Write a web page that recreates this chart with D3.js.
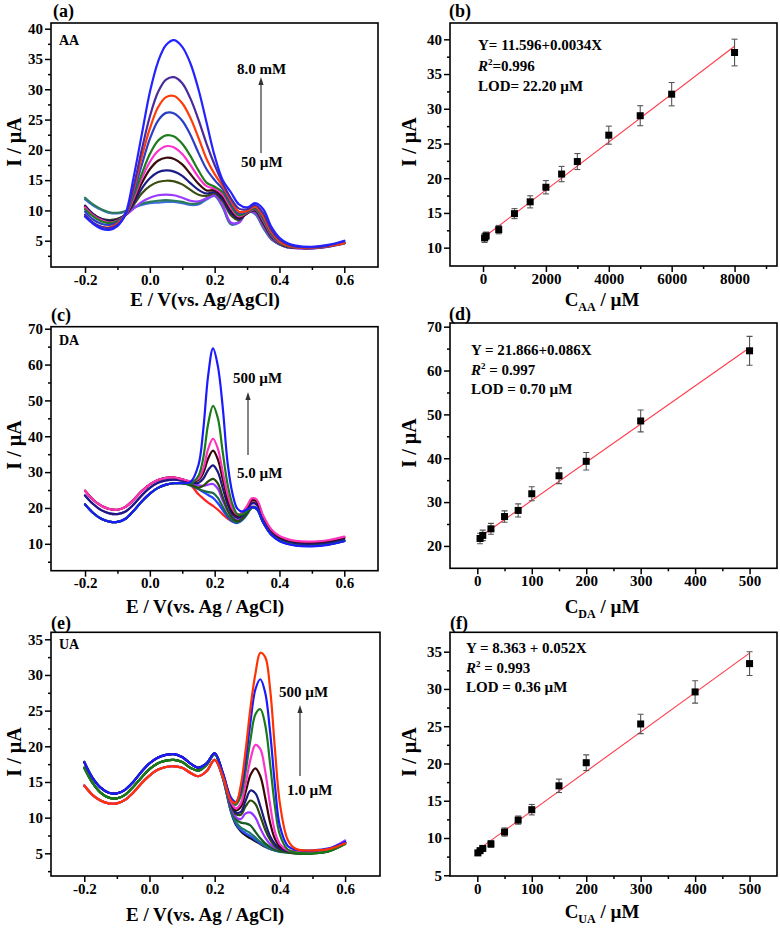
<!DOCTYPE html>
<html><head><meta charset="utf-8">
<script src="https://cdn.jsdelivr.net/npm/d3@7"></script>
<style>
body{margin:0;background:#fff}
svg{display:block}
</style>
</head><body>
<svg id="chart" width="780" height="928"></svg>
<script>
// ================= DATA =================
// ---- Panel (a): AA DPV curves (potential grid, V) ----
const E_AA = [-0.2,-0.175,-0.15,-0.125,-0.1,-0.075,-0.05,-0.025,0,0.025,0.05,0.075,0.1,0.125,0.15,0.175,0.2,0.225,0.25,0.275,0.3,0.325,0.35,0.375,0.4,0.425,0.45,0.5,0.55,0.6];
const AA_curveLabels = ["50 µM","100 µM","500 µM","1.0 mM","1.5 mM","2.0 mM","2.5 mM","3.0 mM","4.0 mM","5.0 mM","6.0 mM","8.0 mM"];
const AA_colors = ["#3f6fe0","#2a7a5a","#9a3cff","#3b4d12","#1c1c86","#3a0c0c","#ff30d0","#1d7d1d","#2b3fc4","#ff3d0a","#4b2a9e","#2323ff"];
const AA_I = [
 [11.8,10.8,10.1,9.6,9.5,9.8,10.4,10.9,11.2,11.3,11.4,11.4,11.2,10.9,11.0,11.8,12.4,10.5,7.7,8.0,9.8,9.4,7.1,5.2,4.4,3.9,3.8,3.75,4.0,4.7],
 [12.1,11.0,10.2,9.7,9.6,9.9,10.5,11.1,11.4,11.6,11.7,11.6,11.4,11.1,11.2,12.0,12.5,10.6,7.8,8.1,9.8,9.5,7.2,5.3,4.4,3.9,3.8,3.75,4.0,4.6],
 [10.5,9.3,8.6,8.3,8.5,9.2,10.3,11.4,12.1,12.5,12.6,12.5,12.1,11.6,11.5,12.0,12.5,10.8,8.0,8.0,9.7,9.6,7.4,5.4,4.4,3.9,3.75,3.7,4.0,4.5],
 [10.7,9.4,8.6,8.4,8.6,9.3,10.9,12.8,14.0,14.7,14.9,14.8,14.3,13.4,12.6,12.4,12.8,11.5,9.2,8.4,9.6,9.9,7.8,5.6,4.5,4.0,3.85,3.8,4.1,4.6],
 [10.8,9.4,8.6,8.3,8.5,9.3,11.2,13.6,15.3,16.3,16.6,16.4,15.7,14.5,13.4,12.8,13.0,11.8,9.6,8.6,9.5,10.0,8.0,5.7,4.5,4.0,3.85,3.8,4.1,4.6],
 [10.6,9.3,8.5,8.1,8.4,9.3,11.6,14.5,16.8,18.2,18.7,18.5,17.6,16.0,14.4,13.3,13.3,12.2,10.0,8.8,9.5,10.1,8.1,5.8,4.6,4.0,3.85,3.8,4.1,4.6],
 [10.5,9.2,8.4,8.0,8.3,9.3,12.0,15.3,18.0,19.8,20.6,20.4,19.3,17.5,15.5,14.0,13.6,12.6,10.4,9.0,9.6,10.2,8.3,5.9,4.6,4.1,3.9,3.8,4.1,4.6],
 [10.2,9.0,8.2,7.9,8.2,9.4,12.4,16.0,19.3,21.5,22.4,22.2,21.0,19.0,16.6,14.6,13.9,13.0,10.8,9.2,9.7,10.3,8.5,6.0,4.7,4.1,3.9,3.8,4.1,4.6],
 [9.8,8.5,7.8,7.6,8.0,9.4,13.0,17.5,21.8,24.8,26.1,26.0,24.8,22.5,19.5,16.8,15.0,13.5,11.2,9.5,9.8,10.5,8.8,6.2,4.8,4.2,3.9,3.8,4.1,4.7],
 [9.0,7.9,7.3,7.2,7.8,9.4,13.5,18.8,23.5,27.0,28.7,28.9,27.7,25.3,22.0,18.5,16.0,14.0,11.6,9.8,9.9,10.6,9.0,6.4,4.9,4.2,3.9,3.8,4.1,4.6],
 [9.3,8.0,7.3,7.1,7.6,9.3,14.0,20.0,25.5,29.5,31.6,32.0,31.0,28.5,25.0,21.0,17.5,14.5,12.0,10.3,10.2,10.9,9.5,6.8,5.2,4.4,4.0,3.9,4.2,4.9],
 [9.0,7.8,7.0,6.8,7.4,9.5,15.5,22.5,29.5,34.5,37.3,38.1,37.0,34.3,30.0,24.5,19.0,15.0,13.0,11.0,10.5,11.2,10.2,7.3,5.5,4.6,4.2,4.0,4.3,5.0]
];

// ---- Panel (b): AA calibration ----
const AA_conc = [50,100,500,1000,1500,2000,2500,3000,4000,5000,6000,8000];
const AA_peak = [11.4,11.7,12.6,14.9,16.6,18.7,20.6,22.4,26.2,29.0,32.1,38.1];
const AA_err  = [0.65,0.55,0.6,0.72,0.87,0.96,1.1,1.15,1.3,1.44,1.68,1.92];
const AA_fit  = [[30,11.5],[8000,39.0]];
const AA_text = ["Y= 11.596+0.0034X","=0.996","LOD= 22.20 µM"];

// ---- Panel (c): DA DPV curves ----
const E_DA_left  = [-0.2,-0.175,-0.15,-0.125,-0.1,-0.075,-0.05,-0.025,0,0.025,0.05,0.075,0.1];
const E_DA_right = [0.125,0.15,0.165,0.18,0.195,0.21,0.225,0.24,0.255,0.27,0.285,0.3,0.315,0.33,0.35,0.375,0.4,0.45,0.5,0.55,0.6];
const DA_baseA = [24.8,22.3,20.6,19.7,19.5,20.3,22.3,24.7,26.6,27.8,28.4,28.5,28.0];
const DA_baseB = [23.5,21.1,19.4,18.5,18.3,19.0,21.0,23.5,25.6,27.0,27.7,27.9,27.6];
const DA_baseC = [21.0,18.6,17.0,16.2,16.1,17.0,19.2,21.8,24.0,25.6,26.5,26.9,26.9];
const DA_curveLabels = ["5.0 µM","10 µM","25 µM","50 µM","75 µM","100 µM","150 µM","200 µM","300 µM","500 µM"];
const DA_colors = ["#ff2020","#2244ff","#1a6a4a","#9933ff","#2a4a10","#1a1a80","#3a0505","#ff33bb","#1a7a1a","#1a1aff"];
const DA_group  = ["A","C","C","B","C","B","A","A","C","C"];
const DA_right = [
 [26.5,23.8,22.6,21.5,20.6,19.5,18.2,17.0,16.2,16.0,17.0,19.0,22.0,21.8,17.0,13.5,11.8,10.6,10.4,10.8,11.8],
 [26.4,25.3,24.4,23.6,22.8,21.3,19.4,17.5,16.2,15.8,16.6,18.2,20.0,19.6,15.8,12.5,10.8,9.6,9.4,9.8,10.8],
 [26.3,25.3,24.8,24.4,24.2,22.8,20.3,18.0,16.5,16.0,16.8,18.4,20.1,19.7,15.9,12.5,10.9,9.7,9.5,9.9,10.9],
 [26.8,26.3,26.2,26.5,26.7,25.3,22.0,19.2,17.3,16.6,17.4,19.2,21.2,20.8,16.6,13.0,11.3,10.1,9.9,10.3,11.3],
 [26.5,25.7,26.2,27.4,28.1,26.8,23.0,19.5,17.2,16.3,17.0,18.6,20.3,19.9,16.0,12.6,11.0,9.7,9.5,9.9,10.9],
 [27.1,27.0,28.2,30.6,31.9,30.0,25.5,21.0,18.2,17.2,17.8,19.5,21.4,21.0,16.8,13.1,11.4,10.1,9.9,10.3,11.3],
 [27.4,27.8,29.8,33.8,36.0,33.5,28.0,22.5,19.0,17.8,18.3,20.2,22.2,21.8,17.4,13.7,11.9,10.6,10.4,10.8,11.8],
 [27.5,28.2,31.0,36.5,39.3,36.5,30.0,23.8,19.8,18.2,18.8,20.6,22.7,22.3,17.8,14.0,12.2,10.8,10.6,11.0,12.0],
 [26.8,29.0,34.0,43.5,48.5,45.0,35.5,26.5,21.0,18.3,18.2,19.2,20.2,19.8,16.0,12.6,10.9,9.6,9.4,9.8,10.8],
 [27.2,32.0,42.0,57.0,64.5,59.5,48.0,32.5,24.0,19.8,19.0,19.6,20.2,19.8,16.0,12.5,10.8,9.5,9.3,9.7,10.7]
];

// ---- Panel (d): DA calibration ----
const DA_conc = [5,10,25,50,75,100,150,200,300,500];
const DA_peak = [21.7,22.4,23.9,26.7,28.1,31.9,36.0,39.3,48.5,64.5];
const DA_err  = [1.2,1.2,1.25,1.3,1.5,1.6,1.8,2.0,2.5,3.3];
const DA_fit  = [[5,22.1],[500,65.2]];
const DA_text = ["Y = 21.866+0.086X"," = 0.997","LOD = 0.70 µM"];

// ---- Panel (e): UA DPV curves ----
const E_UA_left  = [-0.2,-0.175,-0.15,-0.125,-0.1,-0.075,-0.05,-0.025,0,0.025,0.05,0.075,0.1,0.125,0.15,0.175,0.2];
const E_UA_right = [0.225,0.25,0.265,0.28,0.295,0.31,0.325,0.34,0.355,0.37,0.385,0.4,0.425,0.45,0.5,0.55,0.6];
const UA_baseT  = [17.8,15.6,14.2,13.5,13.4,13.9,15.0,16.4,17.6,18.4,18.8,18.9,18.5,17.6,17.0,17.6,19.0];
const UA_baseM  = [17.0,14.9,13.5,12.8,12.7,13.2,14.3,15.6,16.8,17.6,18.0,18.1,17.8,17.0,16.6,17.4,18.9];
const UA_baseBt = [14.5,13.2,12.4,12.0,12.0,12.5,13.5,14.8,15.9,16.7,17.1,17.2,17.0,16.3,15.8,16.5,18.1];
const UA_curveLabels = ["1.0 µM","5.0 µM","10 µM","25 µM","50 µM","75 µM","100 µM","150 µM","200 µM","300 µM","400 µM","500 µM"];
const UA_colors = ["#101010","#3050ff","#1a7a6a","#1a5a2a","#9933ff","#2a4a0a","#1a1a80","#3a0505","#ff33cc","#1a7a1a","#1a1aff","#ff3300"];
const UA_group  = ["Bt","T","M","M","Bt","M","T","T","Bt","M","T","Bt"];
const UA_right = [
 [15.5,10.8,9.0,8.1,7.5,7.1,6.7,6.3,5.9,5.6,5.4,5.3,5.3,5.3,5.3,5.5,6.5],
 [15.6,10.9,9.2,8.3,7.8,7.4,6.9,6.4,6.0,5.6,5.4,5.3,5.3,5.3,5.3,5.6,6.6],
 [15.6,11.0,9.4,8.6,8.2,7.8,7.2,6.6,6.1,5.7,5.4,5.2,5.1,5.0,5.0,5.3,6.4],
 [15.8,11.3,9.8,9.3,9.2,8.9,8.0,7.1,6.4,5.9,5.5,5.3,5.1,5.0,5.0,5.3,6.4],
 [15.8,11.5,10.1,9.8,10.6,10.7,10.0,8.5,7.2,6.3,5.8,5.5,5.4,5.3,5.3,5.6,6.8],
 [16.0,11.8,10.5,10.4,11.6,12.4,11.9,10.2,8.3,6.9,6.0,5.5,5.2,5.0,5.0,5.3,6.3],
 [16.2,12.0,10.7,10.8,12.4,13.8,13.4,11.6,9.3,7.4,6.3,5.7,5.3,5.2,5.1,5.4,6.5],
 [16.2,12.2,11.0,11.5,13.6,16.0,16.9,15.8,12.8,9.3,7.0,6.0,5.4,5.2,5.1,5.4,6.5],
 [15.8,12.2,11.3,12.0,14.8,18.2,20.2,19.6,16.5,11.8,8.0,6.3,5.4,5.2,5.1,5.4,6.4],
 [16.2,12.6,11.8,13.0,16.5,21.0,24.5,25.2,23.0,17.5,11.5,7.6,5.5,5.1,5.0,5.3,6.3],
 [16.3,12.8,12.2,13.8,18.0,23.5,28.0,29.4,27.5,22.0,14.5,8.8,6.0,5.5,5.4,5.7,6.6],
 [15.8,12.4,12.1,14.5,19.5,25.5,30.2,33.1,32.5,28.0,19.5,12.0,6.8,5.6,5.4,5.6,6.4]
];

// ---- Panel (f): UA calibration ----
const UA_conc = [1,5,10,25,50,75,100,150,200,300,400,500];
const UA_peak = [8.0,8.3,8.6,9.2,10.8,12.4,13.8,17.0,20.1,25.3,29.6,33.4];
const UA_err  = [0.3,0.3,0.35,0.45,0.55,0.55,0.7,0.9,1.05,1.3,1.5,1.6];
const UA_fit  = [[1,8.4],[500,34.8]];
const UA_text = ["Y = 8.363 + 0.052X"," = 0.993","LOD = 0.36 µM"];

// ---- Tick values ----
const E_ticks = [-0.2,0,0.2,0.4,0.6];
const E_minor = [-0.1,0.1,0.3,0.5];
const AAconc_ticks = [0,2000,4000,6000,8000];
const AAconc_minor = [1000,3000,5000,7000,9000];
const conc_ticks = [0,100,200,300,400,500];
const conc_minor = [50,150,250,350,450];
const yA_ticks = [5,10,15,20,25,30,35,40];
const yA_minor = [2.5,7.5,12.5,17.5,22.5,27.5,32.5,37.5];
const yB_ticks = [10,15,20,25,30,35,40];
const yB_minor = [12.5,17.5,22.5,27.5,32.5,37.5];
const yC_ticks = [10,20,30,40,50,60,70];
const yC_minor = [5,15,25,35,45,55,65];
const yD_ticks = [20,30,40,50,60,70];
const yD_minor = [25,35,45,55,65];
const yE_ticks = [5,10,15,20,25,30,35];
const yE_minor = [2.5,7.5,12.5,17.5,22.5,27.5,32.5];
const yF_ticks = [5,10,15,20,25,30,35];
const yF_minor = [7.5,12.5,17.5,22.5,27.5,32.5];

// ================= DRAWING =================
const FONT = "'Liberation Serif','Times New Roman',serif";
const svg = d3.select("#chart");
const defs = svg.append("defs");

function panel(p) {
  const x = d3.scaleLinear().domain(p.xd).range([p.l, p.r]);
  const y = d3.scaleLinear().domain(p.yd).range([p.b, p.t]);
  const g = svg.append("g");
  defs.append("clipPath").attr("id", "clip" + p.id)
    .append("rect").attr("x", p.l).attr("y", p.t).attr("width", p.r - p.l).attr("height", p.b - p.t);
  g.append("g").attr("transform", `translate(0,${p.b})`)
    .call(d3.axisBottom(x).tickValues(p.xt).tickSize(6).tickPadding(1).tickFormat(p.xf));
  g.append("g").attr("transform", `translate(0,${p.b})`)
    .call(d3.axisBottom(x).tickValues(p.xm).tickSize(3).tickFormat(""));
  g.append("g").attr("transform", `translate(${p.l},0)`)
    .call(d3.axisLeft(y).tickValues(p.yt).tickSize(6).tickPadding(2).tickFormat(d3.format("d")));
  g.append("g").attr("transform", `translate(${p.l},0)`)
    .call(d3.axisLeft(y).tickValues(p.ym).tickSize(3).tickFormat(""));
  g.selectAll(".domain").remove();
  g.selectAll(".tick line").attr("stroke", "#000").attr("stroke-width", 1.5);
  g.selectAll(".tick text").attr("font-size", 15).attr("font-weight", "bold")
    .attr("font-family", FONT).attr("fill", "#000");
  const plot = svg.append("g").attr("clip-path", `url(#clip${p.id})`);
  return {x, y, plot, p};
}
function frame(pn) {
  const p = pn.p;
  svg.append("rect").attr("x", p.l).attr("y", p.t).attr("width", p.r - p.l).attr("height", p.b - p.t)
    .attr("fill", "none").attr("stroke", "#000").attr("stroke-width", 1.6);
}
function curves(pn, E, series, colors) {
  const line = d3.line().x((d, i) => pn.x(E[i])).y(d => pn.y(d)).curve(d3.curveCatmullRom.alpha(0.5));
  pn.plot.selectAll(null).data(series).enter().append("path")
    .attr("d", line).attr("fill", "none")
    .attr("stroke", (d, i) => colors[i]).attr("stroke-width", 2.2)
    .attr("stroke-linejoin", "round").attr("stroke-linecap", "round");
}
function scatter(pn, xs, ys, es, fit) {
  pn.plot.append("path").datum(fit)
    .attr("d", d3.line().x(d => pn.x(d[0])).y(d => pn.y(d[1])))
    .attr("fill", "none").attr("stroke", "#ff3a4a").attr("stroke-width", 1.1);
  const eg = pn.plot.append("g").attr("stroke", "#555").attr("stroke-width", 1.1);
  xs.forEach((xv, i) => {
    const cx = pn.x(xv), y1 = pn.y(ys[i] - es[i]), y2 = pn.y(ys[i] + es[i]);
    eg.append("line").attr("x1", cx).attr("x2", cx).attr("y1", y1).attr("y2", y2);
    eg.append("line").attr("x1", cx - 3).attr("x2", cx + 3).attr("y1", y1).attr("y2", y1);
    eg.append("line").attr("x1", cx - 3).attr("x2", cx + 3).attr("y1", y2).attr("y2", y2);
  });
  pn.plot.selectAll(null).data(xs).enter().append("rect")
    .attr("x", d => pn.x(d) - 3.5).attr("y", (d, i) => pn.y(ys[i]) - 3.5)
    .attr("width", 7).attr("height", 7).attr("fill", "#000");
}
function text(x, y, s, size, anchor) {
  return svg.append("text").attr("x", x).attr("y", y).attr("font-family", FONT)
    .attr("font-weight", "bold").attr("font-size", size).attr("text-anchor", anchor || "start")
    .attr("fill", "#000").text(s);
}
function ytitle(x, y) {
  svg.append("text").attr("transform", `translate(${x},${y}) rotate(-90)`)
    .attr("font-family", FONT).attr("font-weight", "bold").attr("font-size", 20)
    .attr("text-anchor", "middle").attr("fill", "#000").text("I / µA");
}
function ctitle(x, y, sub) {
  const t = svg.append("text").attr("x", x).attr("y", y).attr("font-family", FONT)
    .attr("font-weight", "bold").attr("font-size", 19).attr("text-anchor", "middle").attr("fill", "#000");
  t.append("tspan").text("C");
  t.append("tspan").attr("font-size", 12).attr("dy", 5).text(sub);
  t.append("tspan").attr("dy", -5).text(" / µM");
}
function eqBlock(x, ys, lines) {
  text(x, ys[0], lines[0], 15);
  const t = svg.append("text").attr("x", x).attr("y", ys[1]).attr("font-family", FONT)
    .attr("font-weight", "bold").attr("font-size", 15).attr("fill", "#000");
  t.append("tspan").attr("font-style", "italic").text("R");
  t.append("tspan").attr("font-size", 9).attr("dy", -6).text("2");
  t.append("tspan").attr("dy", 6).text(lines[1]);
  text(x, ys[2], lines[2], 15);
}
function arrow(x, yFrom, yTo) {
  svg.append("line").attr("x1", x).attr("x2", x).attr("y1", yFrom).attr("y2", yTo + 6)
    .attr("stroke", "#333").attr("stroke-width", 1.2);
  svg.append("path").attr("d", `M${x},${yTo} L${x - 2.6},${yTo + 8} L${x + 2.6},${yTo + 8} Z`).attr("fill", "#333");
}
const fE = d => d.toFixed(1);
const fI = d3.format("d");

// ---- (a) ----
const pa = panel({id:"a", l:51, r:378, t:23, b:267, xd:[-0.305,0.704], yd:[0.66,40.94],
  xt:E_ticks, xm:E_minor, yt:yA_ticks, ym:yA_minor, xf:fE});
curves(pa, E_AA, AA_I, AA_colors);
frame(pa);
text(53, 17, "(a)", 18);
text(59, 45, "AA", 14);
text(237, 74, AA_curveLabels[AA_curveLabels.length-1], 15);
text(241, 167, AA_curveLabels[0], 15);
arrow(261, 153, 77);
ytitle(21, 142);
text(205, 306, "E / V(vs. Ag/AgCl)", 19, "middle");

// ---- (b) ----
const pb = panel({id:"b", l:450, r:777, t:23, b:266, xd:[-1050,9350], yd:[7.36,42.35],
  xt:AAconc_ticks, xm:AAconc_minor, yt:yB_ticks, ym:yB_minor, xf:fI});
scatter(pb, AA_conc, AA_peak, AA_err, AA_fit);
frame(pb);
text(449, 17, "(b)", 18);
eqBlock(478, [49.5, 71, 91], AA_text);
ytitle(416, 142);
ctitle(602, 306, "AA");

// ---- (c) ----
const DA_base = {A:DA_baseA, B:DA_baseB, C:DA_baseC};
const E_DA = E_DA_left.concat(E_DA_right);
const DA_I = DA_right.map((r, i) => DA_base[DA_group[i]].concat(r));
const pc = panel({id:"c", l:51, r:378, t:326.7, b:570.7, xd:[-0.305,0.704], yd:[2.5,70.56],
  xt:E_ticks, xm:E_minor, yt:yC_ticks, ym:yC_minor, xf:fE});
curves(pc, E_DA, DA_I, DA_colors);
frame(pc);
text(51, 321, "(c)", 18);
text(59, 345, "DA", 14);
text(233, 383, DA_curveLabels[DA_curveLabels.length-1], 15);
text(237, 478, DA_curveLabels[0], 15);
arrow(248, 455, 392);
ytitle(21, 445);
text(205, 613, "E / V(vs. Ag / AgCl)", 19, "middle");

// ---- (d) ----
const pd = panel({id:"d", l:450, r:777, t:323, b:568.3, xd:[-50.2,550.4], yd:[14.9,70.84],
  xt:conc_ticks, xm:conc_minor, yt:yD_ticks, ym:yD_minor, xf:fI});
scatter(pd, DA_conc, DA_peak, DA_err, DA_fit);
frame(pd);
text(449, 320, "(d)", 18);
eqBlock(471, [355, 375, 393.5], DA_text);
ytitle(416, 443);
ctitle(602, 613, "DA");

// ---- (e) ----
const UA_base = {T:UA_baseT, M:UA_baseM, Bt:UA_baseBt};
const E_UA = E_UA_left.concat(E_UA_right);
const UA_I = UA_right.map((r, i) => UA_base[UA_group[i]].concat(r));
const pe = panel({id:"e", l:51, r:380, t:632.3, b:876, xd:[-0.302,0.707], yd:[1.82,35.98],
  xt:E_ticks, xm:E_minor, yt:yE_ticks, ym:yE_minor, xf:fE});
curves(pe, E_UA, UA_I, UA_colors);
frame(pe);
text(51, 629, "(e)", 18);
text(59, 649, "UA", 14);
text(279, 697, UA_curveLabels[UA_curveLabels.length-1], 15);
text(287, 795, UA_curveLabels[0], 15);
arrow(300, 776, 705);
ytitle(21, 752);
text(205, 921, "E / V(vs. Ag / AgCl)", 19, "middle");

// ---- (f) ----
const pf = panel({id:"f", l:450, r:777, t:632.3, b:876, xd:[-50.2,550.4], yd:[4.9,37.6],
  xt:conc_ticks, xm:conc_minor, yt:yF_ticks, ym:yF_minor, xf:fI});
scatter(pf, UA_conc, UA_peak, UA_err, UA_fit);
frame(pf);
text(450, 629, "(f)", 18);
eqBlock(466, [653, 673, 692], UA_text);
ytitle(416, 752);
ctitle(602, 918, "UA");
</script>
</body></html>
